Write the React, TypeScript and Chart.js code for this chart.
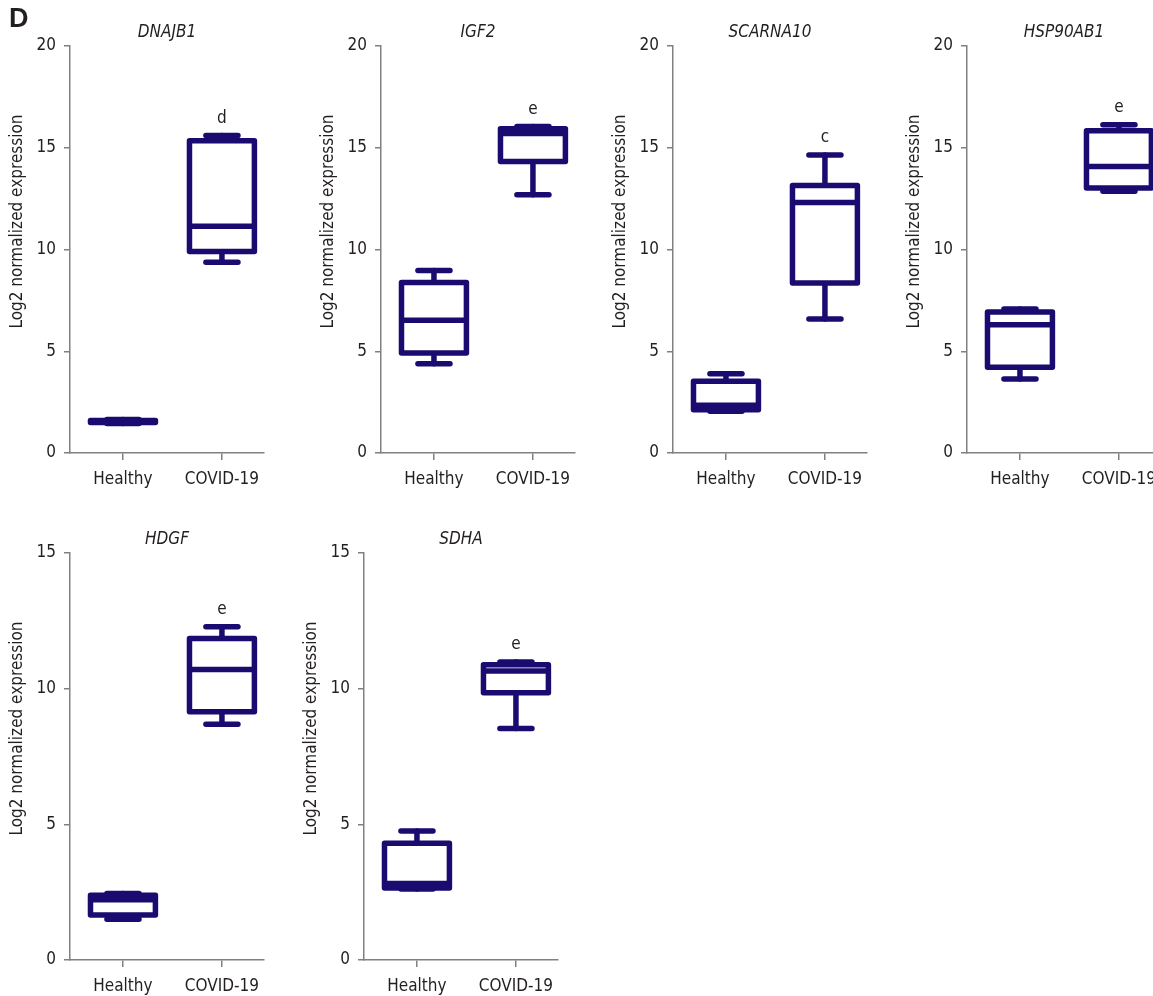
import React, { useEffect, useRef } from 'react';
import { Chart, registerables } from 'chart.js';

Chart.register(...registerables);

// ---------------- DATA ----------------
const genes = ['DNAJB1', 'IGF2', 'SCARNA10', 'HSP90AB1', 'HDGF', 'SDHA'];
const categories = ['Healthy', 'COVID-19'];
const yAxisMax = [20, 20, 20, 20, 15, 15];
const yTickStep = 5;
const significance = ['d', 'e', 'c', 'e', 'e', 'e'];
const yAxisTitle = 'Log2 normalized expression';
const panelLetter = 'D';

// box statistics: [min, q1, median, q3, max]
const healthyStats = [
  [1.45, 1.5, 1.55, 1.6, 1.65],
  [4.39, 4.91, 6.52, 8.38, 8.97],
  [2.05, 2.12, 2.35, 3.52, 3.9],
  [3.64, 4.21, 6.3, 6.93, 7.08],
  [1.5, 1.66, 2.22, 2.39, 2.45],
  [2.62, 2.65, 2.82, 4.3, 4.75],
];
const covidStats = [
  [9.37, 9.9, 11.14, 15.35, 15.6],
  [12.69, 14.33, 15.7, 15.93, 16.05],
  [6.58, 8.35, 12.31, 13.15, 14.64],
  [12.86, 13.02, 14.08, 15.84, 16.13],
  [8.69, 9.15, 10.71, 11.85, 12.28],
  [8.53, 9.85, 10.65, 10.88, 10.98],
];

// ---------------- STYLE / LAYOUT ----------------
const FONT = "'DejaVu Sans Condensed', 'DejaVu Sans', sans-serif";
const TEXT = '#231f20';
const AXIS = '#808080';
const NAVY = '#1a0b70';
const panelLeft = [0, 311, 603, 897, 0, 294];
const panelTop = [0, 0, 0, 0, 507, 507];
const CANVAS_W = 290;
const CANVAS_H = 500;

function Panel({ index }: { index: number }) {
  const ref = useRef<HTMLCanvasElement | null>(null);
  useEffect(() => {
    const canvas = ref.current;
    if (!canvas) return;
    const stats = [healthyStats[index], covidStats[index]];

    const boxPlugin = {
      id: 'boxes' + index,
      afterDatasetsDraw(chart: any) {
        const { ctx, chartArea } = chart;
        const x = chart.scales.x;
        const y = chart.scales.y;
        ctx.save();
        ctx.lineWidth = 5.5;
        ctx.strokeStyle = NAVY;
        ctx.lineJoin = 'round';
        stats.forEach((s: number[], i: number) => {
          const [mn, q1, md, q3, mx] = s;
          const cx = x.getPixelForValue(i);
          const hb = x.getPixelForValue(i + 0.328) - cx;
          const hc = x.getPixelForValue(i + 0.162) - cx;
          ctx.lineCap = 'round';
          ctx.beginPath();
          ctx.moveTo(cx, y.getPixelForValue(q3));
          ctx.lineTo(cx, y.getPixelForValue(mx));
          ctx.moveTo(cx, y.getPixelForValue(q1));
          ctx.lineTo(cx, y.getPixelForValue(mn));
          ctx.stroke();
          ctx.beginPath();
          ctx.moveTo(cx - hc, y.getPixelForValue(mx));
          ctx.lineTo(cx + hc, y.getPixelForValue(mx));
          ctx.moveTo(cx - hc, y.getPixelForValue(mn));
          ctx.lineTo(cx + hc, y.getPixelForValue(mn));
          ctx.stroke();
          const top = y.getPixelForValue(q3);
          const bot = y.getPixelForValue(q1);
          ctx.fillStyle = '#ffffff';
          ctx.fillRect(cx - hb, top, 2 * hb, bot - top);
          ctx.beginPath();
          ctx.rect(cx - hb, top, 2 * hb, bot - top);
          ctx.stroke();
          ctx.lineCap = 'butt';
          ctx.beginPath();
          ctx.moveTo(cx - hb, y.getPixelForValue(md));
          ctx.lineTo(cx + hb, y.getPixelForValue(md));
          ctx.stroke();
        });
        // significance letter above COVID-19 box
        ctx.fillStyle = TEXT;
        ctx.textAlign = 'center';
        ctx.textBaseline = 'middle';
        ctx.font = `17px ${FONT}`;
        ctx.fillText(significance[index], x.getPixelForValue(1), y.getPixelForValue(stats[1][4]) - 17);
        // gene title
        ctx.font = `italic 17px ${FONT}`;
        ctx.fillText(genes[index], (chartArea.left + chartArea.right) / 2, chartArea.top - 13);
        // y axis title
        ctx.save();
        ctx.translate(chartArea.left - 52, (chartArea.top + chartArea.bottom) / 2 - 28);
        ctx.rotate(-Math.PI / 2);
        ctx.font = `17px ${FONT}`;
        ctx.fillText(yAxisTitle, 0, 0);
        ctx.restore();
        ctx.restore();
      },
    };

    const chart = new Chart(canvas, {
      type: 'scatter',
      data: {
        datasets: [
          {
            data: stats.map((s: number[], i: number) => ({ x: i, y: s[2] })),
            pointRadius: 0,
            showLine: false,
          },
        ],
      },
      options: {
        animation: false,
        responsive: false,
        events: [],
        layout: { padding: { top: 46, left: 0, right: 26, bottom: 7 } },
        plugins: {
          legend: { display: false },
          tooltip: { enabled: false },
          title: { display: false },
        },
        scales: {
          x: {
            type: 'linear',
            min: -0.535,
            max: 1.425,
            afterBuildTicks: (s: any) => {
              s.ticks = categories.map((_, i) => ({ value: i }));
            },
            afterFit: (s: any) => {
              s.height = 40;
            },
            grid: {
              display: true,
              drawOnChartArea: false,
              drawTicks: true,
              tickLength: 7,
              color: AXIS,
              lineWidth: 1.5,
            },
            border: { display: true, color: AXIS, width: 1.5 },
            ticks: {
              color: TEXT,
              font: { family: FONT, size: 17 },
              padding: 9,
              autoSkip: false,
              maxRotation: 0,
              callback: (v: any) => categories[Math.round(Number(v))] ?? '',
            },
          },
          y: {
            type: 'linear',
            min: 0,
            max: yAxisMax[index],
            afterFit: (s: any) => {
              s.width = 70;
            },
            grid: {
              display: true,
              drawOnChartArea: false,
              drawTicks: true,
              tickLength: 6,
              color: AXIS,
              lineWidth: 1.5,
            },
            border: { display: true, color: AXIS, width: 1.5 },
            ticks: {
              stepSize: yTickStep,
              color: TEXT,
              font: { family: FONT, size: 17 },
              padding: 8,
            },
          },
        },
      } as any,
      plugins: [boxPlugin],
    });
    return () => chart.destroy();
  }, [index]);

  return (
    <canvas
      ref={ref}
      width={CANVAS_W}
      height={CANVAS_H}
      style={{
        position: 'absolute',
        left: panelLeft[index],
        top: panelTop[index],
        width: CANVAS_W,
        height: CANVAS_H,
      }}
    />
  );
}

export default function App() {
  return (
    <div
      style={{
        position: 'absolute',
        left: 0,
        top: 0,
        width: 1153,
        height: 996,
        overflow: 'hidden',
        background: '#ffffff',
      }}
    >
      {genes.map((_, i) => (
        <Panel key={i} index={i} />
      ))}
      <div
        style={{
          position: 'absolute',
          left: 9,
          top: 2,
          fontFamily: "'Liberation Sans', Arial, sans-serif",
          fontWeight: 'bold',
          fontSize: 27,
          color: TEXT,
          lineHeight: '32px',
        }}
      >
        {panelLetter}
      </div>
    </div>
  );
}
